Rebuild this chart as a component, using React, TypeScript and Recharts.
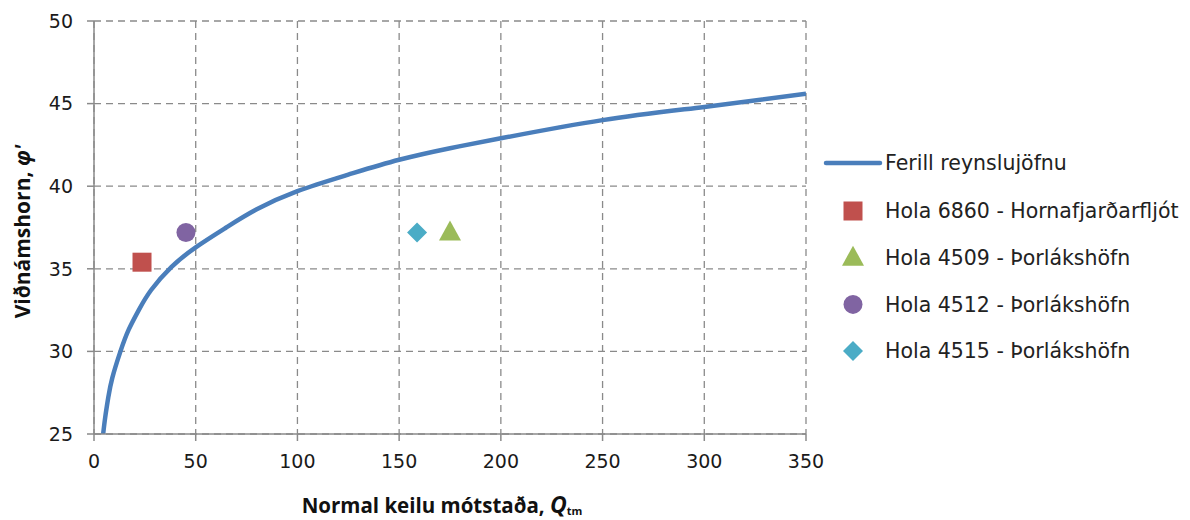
import { ComposedChart, Line, Scatter, XAxis, YAxis, CartesianGrid } from "recharts";

// curve
const curveQ = [4.5, 5.5, 7, 9, 13, 17, 22, 28, 38, 50, 65, 80, 100, 125, 150, 175, 200, 250, 300, 350];
const curvePhi = [25, 26.0, 27.2, 28.4, 30.0, 31.3, 32.5, 33.7, 35.1, 36.3, 37.5, 38.6, 39.7, 40.7, 41.6, 42.3, 42.9, 44.0, 44.8, 45.6];

const seriesNames = [
  "Ferill reynslujöfnu",
  "Hola 6860 - Hornafjarðarfljót",
  "Hola 4509 - Þorlákshöfn",
  "Hola 4512 - Þorlákshöfn",
  "Hola 4515 - Þorlákshöfn",
];
const holaQ = [23.6, 175, 45.2, 158.8];
const holaPhi = [35.4, 37.2, 37.2, 37.2];

const xTicks = [0, 50, 100, 150, 200, 250, 300, 350];
const yTicks = [25, 30, 35, 40, 45, 50];

const LINE_COLOR = "#4a7ebb";
const COLORS = ["#c0504d", "#9bbb59", "#8064a2", "#4bacc6"];
const KINDS = ["square", "triangle", "circle", "diamond"];

const FONT = "'DejaVu Sans', Verdana, sans-serif";
const BOLD_FONT = "'Open Sans', 'DejaVu Sans', sans-serif";

const curveData = curveQ.map((q, i) => ({ q, phi: curvePhi[i] }));

function Marker({ kind, cx, cy, fill }: { kind: string; cx: number; cy: number; fill: string }) {
  if (kind === "square") return <rect x={cx - 9.5} y={cy - 9.5} width={19} height={19} fill={fill} />;
  if (kind === "circle") return <circle cx={cx} cy={cy} r={9.5} fill={fill} />;
  if (kind === "triangle")
    return <polygon points={`${cx},${cy - 12} ${cx + 11},${cy + 8} ${cx - 11},${cy + 8}`} fill={fill} />;
  return <polygon points={`${cx},${cy - 10} ${cx + 10},${cy} ${cx},${cy + 10} ${cx - 10},${cy}`} fill={fill} />;
}

function LegendBox() {
  return (
    <svg width={370} height={240} style={{ position: "absolute", left: 820, top: 140, fontFamily: FONT }}>
      <line x1={6} y1={23} x2={60} y2={23} stroke={LINE_COLOR} strokeWidth={4.5} strokeLinecap="round" />
      <text x={65} y={23} dy="0.35em" fontSize={20.5} fill="#222">{seriesNames[0]}</text>
      {KINDS.map((k, i) => (
        <g key={k}>
          <Marker kind={k} cx={33} cy={71 + i * 46.7} fill={COLORS[i]} />
          <text x={65} y={71 + i * 46.7} dy="0.35em" fontSize={20.5} fill="#222">{seriesNames[i + 1]}</text>
        </g>
      ))}
    </svg>
  );
}

export default function App() {
  return (
    <div style={{ position: "absolute", left: 0, top: 0, width: 1190, height: 520, background: "#fff" }}>
      <ComposedChart width={1190} height={520} margin={{ top: 21, right: 384, bottom: 26, left: 0 }}>
        <CartesianGrid stroke="#8a8a8a" strokeWidth={1.3} strokeDasharray="7 5" />
        <XAxis
          type="number"
          dataKey="q"
          domain={[0, 350]}
          ticks={xTicks}
          allowDataOverflow
          height={60}
          stroke="#8a8a8a"
          strokeWidth={1.5}
          tickSize={7}
          tickMargin={14}
          tick={{ fill: "#1a1a1a", fontSize: 19, fontFamily: FONT }}
          label={({ viewBox }: any) => (
            <text x={viewBox.x + viewBox.width / 2 - 8} y={viewBox.y + 79} textAnchor="middle"
              fontFamily={BOLD_FONT} fontWeight="bold" fontSize={20.5} fill="#111">
              Normal keilu mótstaða,{" "}
              <tspan fontStyle="italic" fontSize={23}>Q</tspan>
              <tspan fontSize={11} dy={2}>tm</tspan>
            </text>
          )}
        />
        <YAxis
          type="number"
          dataKey="phi"
          domain={[25, 50]}
          ticks={yTicks}
          allowDataOverflow
          width={94}
          stroke="#8a8a8a"
          strokeWidth={1.5}
          tickSize={7}
          tickMargin={14}
          tick={{ fill: "#1a1a1a", fontSize: 19, fontFamily: FONT }}
          label={({ viewBox }: any) => {
            const cx = 22;
            const cy = viewBox.y + viewBox.height / 2 + 4;
            return (
              <text x={cx} y={cy} textAnchor="middle" dominantBaseline="central" transform={`rotate(-90 ${cx} ${cy})`}
                fontFamily={BOLD_FONT} fontWeight="bold" fontSize={21} fill="#111">
                Viðnámshorn, <tspan fontStyle="italic">φ'</tspan>
              </text>
            );
          }}
        />
        <Line
          data={curveData}
          dataKey="phi"
          type="natural"
          stroke={LINE_COLOR}
          strokeWidth={4.5}
          dot={false}
          activeDot={false}
          isAnimationActive={false}
          name={seriesNames[0]}
        />
        {KINDS.map((k, i) => (
          <Scatter
            key={k}
            name={seriesNames[i + 1]}
            data={[{ q: holaQ[i], phi: holaPhi[i] }]}
            dataKey="phi"
            fill={COLORS[i]}
            isAnimationActive={false}
            shape={(p: any) => <Marker kind={k} cx={p.cx} cy={p.cy} fill={COLORS[i]} />}
          />
        ))}
      </ComposedChart>
      <LegendBox />
    </div>
  );
}
